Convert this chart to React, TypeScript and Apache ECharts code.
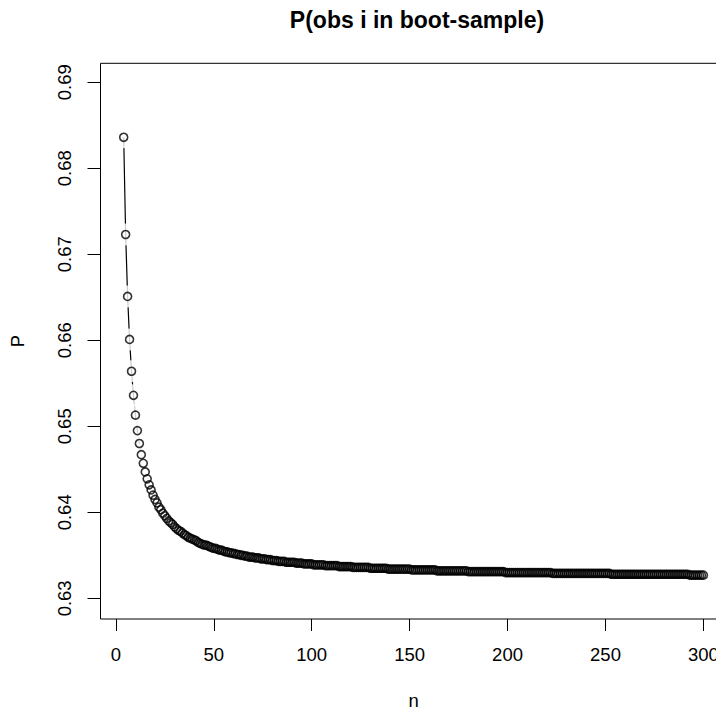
import React, { useEffect, useRef } from "react";
import * as echarts from "echarts";

const TITLE = "P(obs i in boot-sample)";
const X_NAME = "n";
const Y_NAME = "P";
const X_TICKS = [0, 50, 100, 150, 200, 250, 300];
const Y_TICKS = [0.63, 0.64, 0.65, 0.66, 0.67, 0.68, 0.69];

const N_VALUES = [
  4, 5, 6, 7, 8, 9, 10, 11, 12, 13, 14, 15, 16, 17, 18, 19, 20, 21, 22, 23,
  24, 25, 26, 27, 28, 29, 30, 31, 32, 33, 34, 35, 36, 37, 38, 39, 40, 41, 42, 43,
  44, 45, 46, 47, 48, 49, 50, 51, 52, 53, 54, 55, 56, 57, 58, 59, 60, 61, 62, 63,
  64, 65, 66, 67, 68, 69, 70, 71, 72, 73, 74, 75, 76, 77, 78, 79, 80, 81, 82, 83,
  84, 85, 86, 87, 88, 89, 90, 91, 92, 93, 94, 95, 96, 97, 98, 99, 100, 101, 102, 103,
  104, 105, 106, 107, 108, 109, 110, 111, 112, 113, 114, 115, 116, 117, 118, 119, 120, 121, 122, 123,
  124, 125, 126, 127, 128, 129, 130, 131, 132, 133, 134, 135, 136, 137, 138, 139, 140, 141, 142, 143,
  144, 145, 146, 147, 148, 149, 150, 151, 152, 153, 154, 155, 156, 157, 158, 159, 160, 161, 162, 163,
  164, 165, 166, 167, 168, 169, 170, 171, 172, 173, 174, 175, 176, 177, 178, 179, 180, 181, 182, 183,
  184, 185, 186, 187, 188, 189, 190, 191, 192, 193, 194, 195, 196, 197, 198, 199, 200, 201, 202, 203,
  204, 205, 206, 207, 208, 209, 210, 211, 212, 213, 214, 215, 216, 217, 218, 219, 220, 221, 222, 223,
  224, 225, 226, 227, 228, 229, 230, 231, 232, 233, 234, 235, 236, 237, 238, 239, 240, 241, 242, 243,
  244, 245, 246, 247, 248, 249, 250, 251, 252, 253, 254, 255, 256, 257, 258, 259, 260, 261, 262, 263,
  264, 265, 266, 267, 268, 269, 270, 271, 272, 273, 274, 275, 276, 277, 278, 279, 280, 281, 282, 283,
  284, 285, 286, 287, 288, 289, 290, 291, 292, 293, 294, 295, 296, 297, 298, 299, 300,
];

const P_VALUES = [
  // n = 4..23
  0.6836, 0.6723, 0.6651, 0.6601, 0.6564, 0.6536, 0.6513, 0.6495, 0.648, 0.6467,
  0.6457, 0.6447, 0.6439, 0.6432, 0.6426, 0.642, 0.6415, 0.6411, 0.6406, 0.6403,
  // n = 24..43
  0.6399, 0.6396, 0.6393, 0.639, 0.6388, 0.6386, 0.6383, 0.6381, 0.6379, 0.6378,
  0.6376, 0.6374, 0.6373, 0.6371, 0.637, 0.6369, 0.6368, 0.6367, 0.6365, 0.6364,
  // n = 44..63
  0.6363, 0.6362, 0.6362, 0.6361, 0.636, 0.6359, 0.6358, 0.6358, 0.6357, 0.6356,
  0.6356, 0.6355, 0.6354, 0.6354, 0.6353, 0.6353, 0.6352, 0.6352, 0.6351, 0.6351,
  // n = 64..83
  0.635, 0.635, 0.6349, 0.6349, 0.6348, 0.6348, 0.6348, 0.6347, 0.6347, 0.6347,
  0.6346, 0.6346, 0.6346, 0.6345, 0.6345, 0.6345, 0.6344, 0.6344, 0.6344, 0.6343,
  // n = 84..103
  0.6343, 0.6343, 0.6343, 0.6342, 0.6342, 0.6342, 0.6342, 0.6342, 0.6341, 0.6341,
  0.6341, 0.6341, 0.634, 0.634, 0.634, 0.634, 0.634, 0.6339, 0.6339, 0.6339,
  // n = 104..123
  0.6339, 0.6339, 0.6339, 0.6338, 0.6338, 0.6338, 0.6338, 0.6338, 0.6338, 0.6338,
  0.6337, 0.6337, 0.6337, 0.6337, 0.6337, 0.6337, 0.6337, 0.6336, 0.6336, 0.6336,
  // n = 124..143
  0.6336, 0.6336, 0.6336, 0.6336, 0.6336, 0.6336, 0.6335, 0.6335, 0.6335, 0.6335,
  0.6335, 0.6335, 0.6335, 0.6335, 0.6335, 0.6334, 0.6334, 0.6334, 0.6334, 0.6334,
  // n = 144..163
  0.6334, 0.6334, 0.6334, 0.6334, 0.6334, 0.6334, 0.6334, 0.6333, 0.6333, 0.6333,
  0.6333, 0.6333, 0.6333, 0.6333, 0.6333, 0.6333, 0.6333, 0.6333, 0.6333, 0.6333,
  // n = 164..183
  0.6332, 0.6332, 0.6332, 0.6332, 0.6332, 0.6332, 0.6332, 0.6332, 0.6332, 0.6332,
  0.6332, 0.6332, 0.6332, 0.6332, 0.6332, 0.6332, 0.6331, 0.6331, 0.6331, 0.6331,
  // n = 184..203
  0.6331, 0.6331, 0.6331, 0.6331, 0.6331, 0.6331, 0.6331, 0.6331, 0.6331, 0.6331,
  0.6331, 0.6331, 0.6331, 0.6331, 0.6331, 0.633, 0.633, 0.633, 0.633, 0.633,
  // n = 204..223
  0.633, 0.633, 0.633, 0.633, 0.633, 0.633, 0.633, 0.633, 0.633, 0.633,
  0.633, 0.633, 0.633, 0.633, 0.633, 0.633, 0.633, 0.633, 0.633, 0.6329,
  // n = 224..243
  0.6329, 0.6329, 0.6329, 0.6329, 0.6329, 0.6329, 0.6329, 0.6329, 0.6329, 0.6329,
  0.6329, 0.6329, 0.6329, 0.6329, 0.6329, 0.6329, 0.6329, 0.6329, 0.6329, 0.6329,
  // n = 244..263
  0.6329, 0.6329, 0.6329, 0.6329, 0.6329, 0.6329, 0.6329, 0.6329, 0.6329, 0.6328,
  0.6328, 0.6328, 0.6328, 0.6328, 0.6328, 0.6328, 0.6328, 0.6328, 0.6328, 0.6328,
  // n = 264..283
  0.6328, 0.6328, 0.6328, 0.6328, 0.6328, 0.6328, 0.6328, 0.6328, 0.6328, 0.6328,
  0.6328, 0.6328, 0.6328, 0.6328, 0.6328, 0.6328, 0.6328, 0.6328, 0.6328, 0.6328,
  // n = 284..300
  0.6328, 0.6328, 0.6328, 0.6328, 0.6328, 0.6328, 0.6328, 0.6328, 0.6328, 0.6327,
  0.6327, 0.6327, 0.6327, 0.6327, 0.6327, 0.6327, 0.6327,
];

const FONT = "'Liberation Sans', Arial, Helvetica, sans-serif";

export default function App() {
  const ref = useRef<HTMLDivElement>(null);

  useEffect(() => {
    if (!ref.current) return;
    const chart = echarts.init(ref.current, null, { renderer: "svg" });
    const data = N_VALUES.map((n, i) => [n, P_VALUES[i]]);

    chart.setOption({
      animation: false,
      backgroundColor: "#ffffff",
      title: {
        text: TITLE,
        left: 412,
        top: 3,
        textAlign: "center",
        textStyle: {
          fontFamily: FONT,
          fontWeight: "bold",
          fontSize: 23,
          color: "#000",
        },
      },
      grid: {
        left: 100.5,
        right: 13.4,
        top: 63.3,
        bottom: 90,
        containLabel: false,
        outerBoundsMode: "none",
        show: true,
        borderColor: "#000",
        borderWidth: 1,
        backgroundColor: "transparent",
      },
      xAxis: {
        type: "value",
        min: -7.84,
        max: 311.84,
        name: X_NAME,
        nameLocation: "middle",
        nameGap: 74,
        nameTextStyle: { fontFamily: FONT, fontSize: 18.5, lineHeight: 14, color: "#000" },
        splitLine: { show: false },
        axisLine: { show: false, onZero: false },
        axisTick: {
          show: true,
          customValues: X_TICKS,
          length: 12,
          lineStyle: { color: "#000", width: 1 },
        },
        axisLabel: {
          customValues: X_TICKS,
          margin: 26,
          fontFamily: FONT,
          fontSize: 18.5,
          color: "#000",
        },
      },
      yAxis: {
        type: "value",
        min: 0.6276,
        max: 0.6922,
        name: Y_NAME,
        nameLocation: "middle",
        nameGap: 74,
        nameRotate: 90,
        nameTextStyle: { fontFamily: FONT, fontSize: 18.5, color: "#000" },
        splitLine: { show: false },
        axisLine: { show: false, onZero: false },
        axisTick: {
          show: true,
          customValues: Y_TICKS,
          length: 13,
          lineStyle: { color: "#000", width: 1 },
        },
        axisLabel: {
          customValues: Y_TICKS,
          rotate: 90,
          margin: 27,
          fontFamily: FONT,
          fontSize: 18.5,
          color: "#000",
          formatter: (v: number) => v.toFixed(2),
        },
      },
      series: [
        {
          type: "line",
          data,
          showSymbol: false,
          symbol: "none",
          lineStyle: { color: "#000", width: 1.2 },
          z: 2,
          silent: true,
        },
        {
          type: "scatter",
          data,
          symbol: "circle",
          symbolSize: 22,
          itemStyle: { color: "#fff", borderWidth: 0 },
          z: 3,
          silent: true,
        },
        {
          type: "scatter",
          data,
          symbol: "circle",
          symbolSize: 8,
          itemStyle: { color: "transparent", borderColor: "#000", borderWidth: 1.6 },
          z: 4,
          silent: true,
        },
      ],
    });

    return () => {
      chart.dispose();
    };
  }, []);

  return (
    <div
      style={{
        position: "absolute",
        left: 0,
        top: 0,
        width: 716,
        height: 709,
        overflow: "hidden",
        background: "#fff",
      }}
    >
      <div ref={ref} style={{ width: 740, height: 709 }} />
    </div>
  );
}
